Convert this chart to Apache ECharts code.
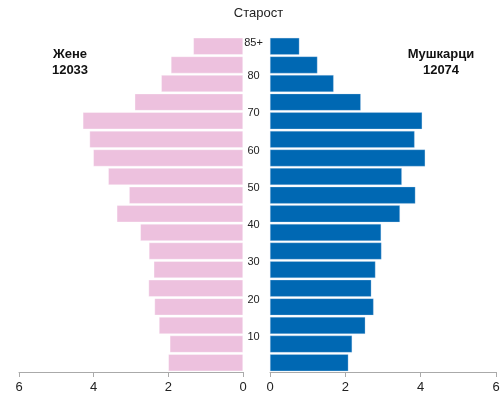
<!DOCTYPE html>
<html><head><meta charset="utf-8">
<script src="https://cdn.jsdelivr.net/npm/echarts@6/dist/echarts.min.js"></script>
<style>html,body{margin:0;padding:0;background:#fff}#c{width:503px;height:398px}</style>
</head><body><div id="c"></div>
<script>
var ageGroups = ['0-4','5-9','10-14','15-19','20-24','25-29','30-34','35-39','40-44','45-49','50-54','55-59','60-64','65-69','70-74','75-79','80-84','85+'];
var women = [2.00,1.96,2.25,2.37,2.53,2.39,2.52,2.75,3.38,3.05,3.61,4.01,4.11,4.29,2.90,2.19,1.93,1.33];
var men   = [2.08,2.18,2.53,2.75,2.69,2.80,2.96,2.95,3.45,3.86,3.50,4.12,3.84,4.04,2.41,1.69,1.26,0.78];
var ageTickValues = [10,20,30,40,50,60,70,80,89];
var ageTickLabels = ['10','20','30','40','50','60','70','80','85+'];
var titleText = 'Старост';
var womenLabel = 'Жене';
var womenTotal = '12033';
var menLabel = 'Мушкарци';
var menTotal = '12074';

var FONT = '"Liberation Sans", Arial, sans-serif';
var chart = echarts.init(document.getElementById('c'), null, {renderer:'canvas'});
var xAxisCommon = {
  type:'value', min:0, max:6, interval:2,
  axisLine:{show:true, lineStyle:{color:'#aaaaaa'}},
  axisTick:{show:true, length:5, lineStyle:{color:'#aaaaaa'}},
  splitLine:{show:false},
  axisLabel:{fontSize:13, color:'#222', margin:9, fontFamily:FONT}
};
chart.setOption({
  animation:false,
  textStyle:{fontFamily:FONT},
  title:{text:titleText, top:2, left:253.5, textAlign:'center', textStyle:{fontSize:13, fontWeight:'normal', color:'#222', fontFamily:FONT}},
  graphic:[
    {type:'text', x:70, y:62, style:{text:womenLabel+'\n'+womenTotal, align:'center', verticalAlign:'middle', font:'bold 13px '+FONT, fill:'#111', lineHeight:16}},
    {type:'text', x:441, y:62, style:{text:menLabel+'\n'+menTotal, align:'center', verticalAlign:'middle', font:'bold 13px '+FONT, fill:'#111', lineHeight:16}}
  ],
  grid:[
    {left:19, right:260, top:37, bottom:26},
    {left:270, right:7, top:37, bottom:26}
  ],
  xAxis:[
    Object.assign({gridIndex:0, inverse:true}, xAxisCommon),
    Object.assign({gridIndex:1}, xAxisCommon)
  ],
  yAxis:[
    {gridIndex:0, type:'category', data:ageGroups, axisLine:{show:false}, axisTick:{show:false}, axisLabel:{show:false}},
    {gridIndex:1, type:'category', data:ageGroups, axisLine:{show:false}, axisTick:{show:false}, axisLabel:{show:false}},
    {gridIndex:0, type:'value', min:0, max:90, position:'right',
     axisLine:{show:false}, axisTick:{show:false}, splitLine:{show:false},
     axisLabel:{customValues:ageTickValues, align:'center', verticalAlign:'top', lineHeight:4, margin:10.5, fontSize:11, color:'#222', fontFamily:FONT,
       formatter:function(v){ var i = ageTickValues.indexOf(v); return i>=0 ? ageTickLabels[i] : ''; }}}
  ],
  series:[
    {type:'bar', name:womenLabel, xAxisIndex:0, yAxisIndex:0, data:women, barCategoryGap:'9%',
     itemStyle:{color:'#EDC1DE', borderColor:'rgba(255,255,255,0.7)', borderWidth:0.5}},
    {type:'bar', name:menLabel, xAxisIndex:1, yAxisIndex:1, data:men, barCategoryGap:'9%',
     itemStyle:{color:'#0068B3', borderColor:'rgba(200,220,240,0.6)', borderWidth:0.5}}
  ]
});
</script></body></html>
